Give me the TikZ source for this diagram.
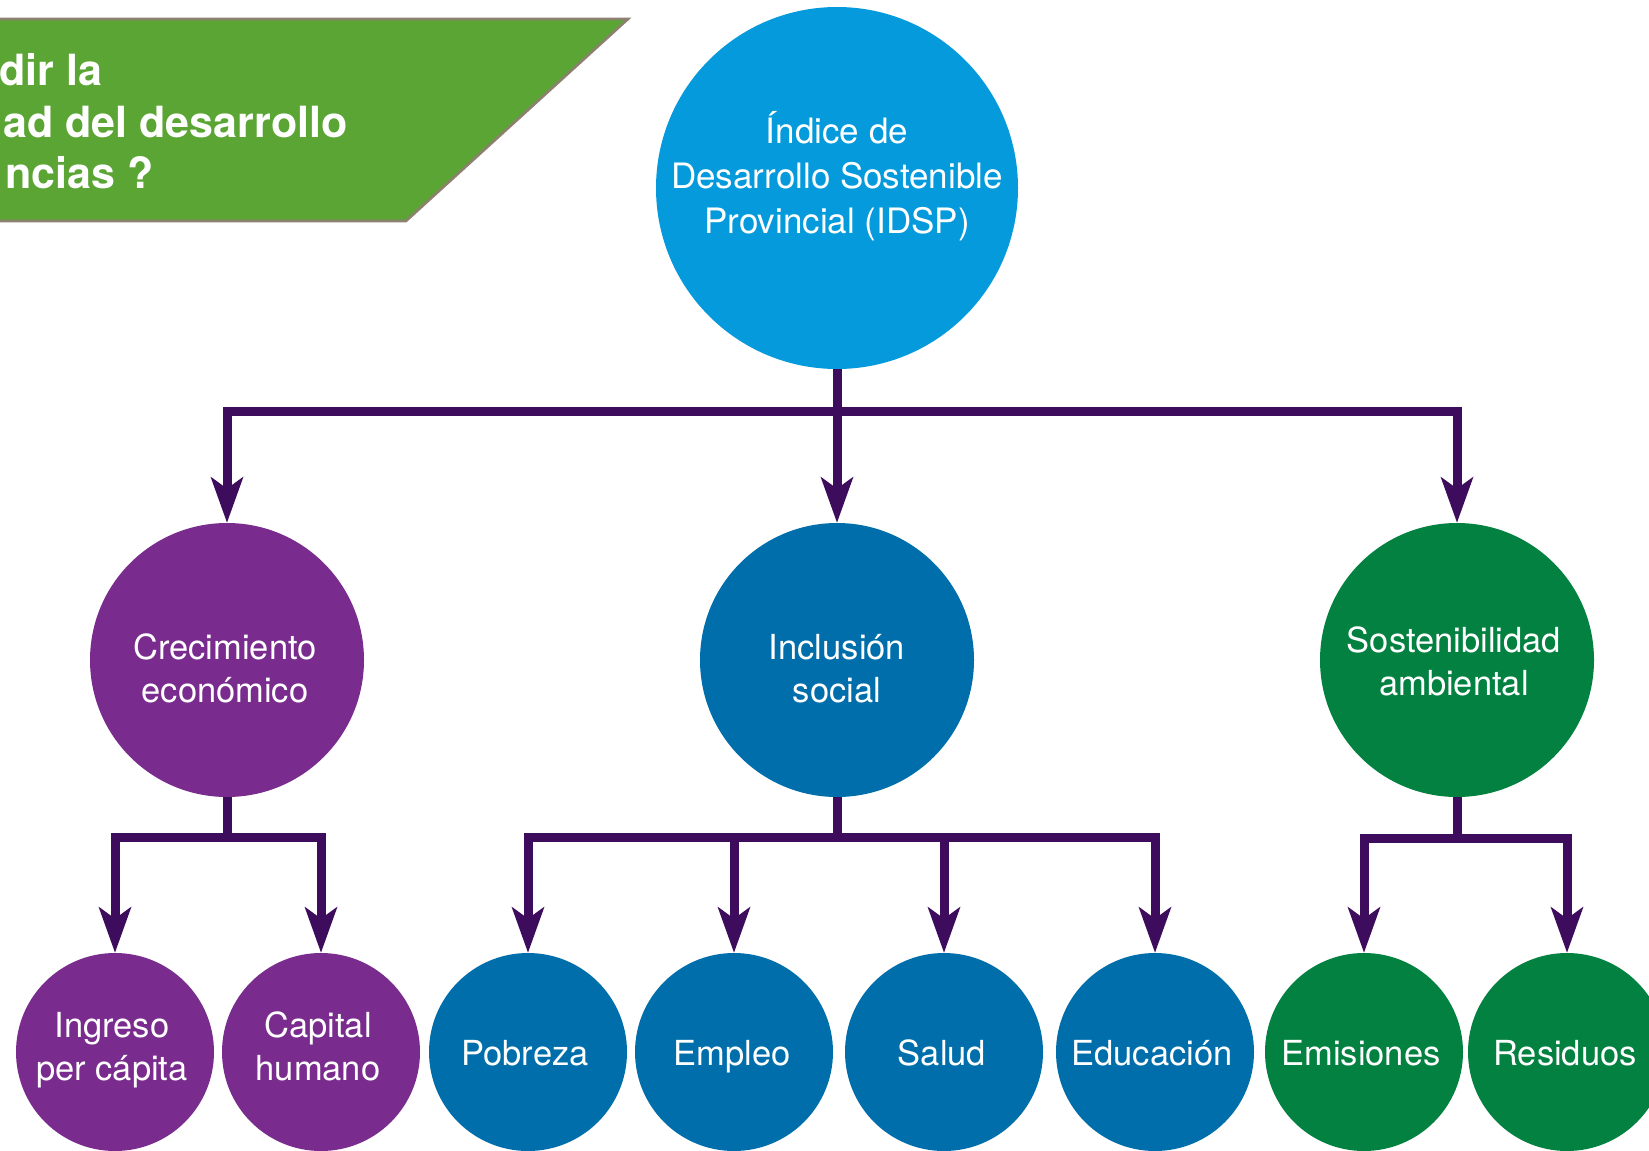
\documentclass[tikz,border=0pt]{standalone}
\usepackage{fontspec}
\setmainfont{TeX Gyre Heros}
\usetikzlibrary{arrows.meta}
\definecolor{cTop}{RGB}{4,154,219}
\definecolor{cPurple}{RGB}{122,44,142}
\definecolor{cBlue}{RGB}{0,110,170}
\definecolor{cGreen}{RGB}{3,129,64}
\definecolor{cBanner}{RGB}{90,165,52}
\definecolor{cBannerEdge}{RGB}{140,128,110}
\definecolor{cConn}{RGB}{61,12,92}
\begin{document}
\begin{tikzpicture}[x=0.5pt,y=-0.5pt,
  bigc/.style={circle,inner sep=0pt,minimum size=181pt,fill=cTop},
  midc/.style={circle,inner sep=0pt,minimum size=137pt,fill=#1},
  smallc/.style={circle,inner sep=0pt,minimum size=99pt,fill=#1},
  conn/.style={draw=cConn,line width=4.5pt,line join=miter,
    -{Stealth[length=23pt,width=16.5pt,inset=6pt,line width=0pt]}},
  txt/.style={text=white,align=center,inner sep=0pt,anchor=base,
    font=\fontsize{17.25pt}{21.5pt}\selectfont},
  toptxt/.style={txt,font=\fontsize{17.5pt}{22.5pt}\selectfont},
  bantxt/.style={text=white,inner sep=0pt,anchor=base west,
    font=\fontsize{21.5pt}{25pt}\selectfont\bfseries}]
\useasboundingbox (0,0) rectangle (1649,1151);
\begin{scope}
\clip (0,0) rectangle (1649,1151);
% banner
\fill[cBanner] (0,19) -- (628,19) -- (406,221) -- (0,221) -- cycle;
\draw[cBannerEdge,line width=1.3pt] (0,19) -- (628,19) -- (406,221) -- (0,221);
\node[bantxt] (b1) at (-1,85) {dir la};
\node[bantxt] (b2) at (3,137) {ad del desarrollo};
\node[bantxt] (b3) at (5,188) {ncias ?};

% circles
\node[bigc] (idsp) at (837,188) {};
\node[midc=cPurple] (crec) at (227,660) {};
\node[midc=cBlue] (incl) at (837,660) {};
\node[midc=cGreen] (sost) at (1457,660) {};
\node[smallc=cPurple] (ing) at (115,1052) {};
\node[smallc=cPurple] (cap) at (321,1052) {};
\node[smallc=cBlue] (pob) at (528,1052) {};
\node[smallc=cBlue] (emp) at (734,1052) {};
\node[smallc=cBlue] (sal) at (944,1052) {};
\node[smallc=cBlue] (edu) at (1155,1052) {};
\node[smallc=cGreen] (emi) at (1364,1052) {};
\node[smallc=cGreen] (res) at (1567,1052) {};

% texts (anchor base = baseline of the last line)
\node[toptxt] (idsp-t) at (837,233) {Índice de\\Desarrollo Sostenible\\Provincial (IDSP)};
\node[txt] (crec-t) at (225,702) {Crecimiento\\económico};
\node[txt] (incl-t) at (837,702) {Inclusión\\social};
\node[txt] (sost-t) at (1454,695) {Sostenibilidad\\ambiental};
\node[txt] (ing-t) at (112,1080) {Ingreso\\per cápita};
\node[txt] (cap-t) at (318,1080) {Capital\\humano};
\node[txt] (pob-t) at (525,1065) {Pobreza};
\node[txt] (emp-t) at (732,1065) {Empleo};
\node[txt] (sal-t) at (942,1065) {Salud};
\node[txt] (edu-t) at (1152,1065) {Educación};
\node[txt] (emi-t) at (1361,1065) {Emisiones};
\node[txt] (res-t) at (1565,1065) {Residuos};

% connectors
\coordinate (j1) at (837,411);
\coordinate (j2) at (227,837);
\coordinate (j3) at (837,837);
\coordinate (j4) at (1457,838);
\draw[conn] (idsp.south) -- (j1) -| (crec.north);
\draw[conn] (idsp.south) -- (incl.north);
\draw[conn] (idsp.south) -- (j1) -| (sost.north);
\draw[conn] (crec.south) -- (j2) -| (ing.north);
\draw[conn] (crec.south) -- (j2) -| (cap.north);
\draw[conn] (incl.south) -- (j3) -| (pob.north);
\draw[conn] (incl.south) -- (j3) -| (emp.north);
\draw[conn] (incl.south) -- (j3) -| (sal.north);
\draw[conn] (incl.south) -- (j3) -| (edu.north);
\draw[conn] (sost.south) -- (j4) -| (emi.north);
\draw[conn] (sost.south) -- (j4) -| (res.north);
\end{scope}
\end{tikzpicture}
\end{document}
